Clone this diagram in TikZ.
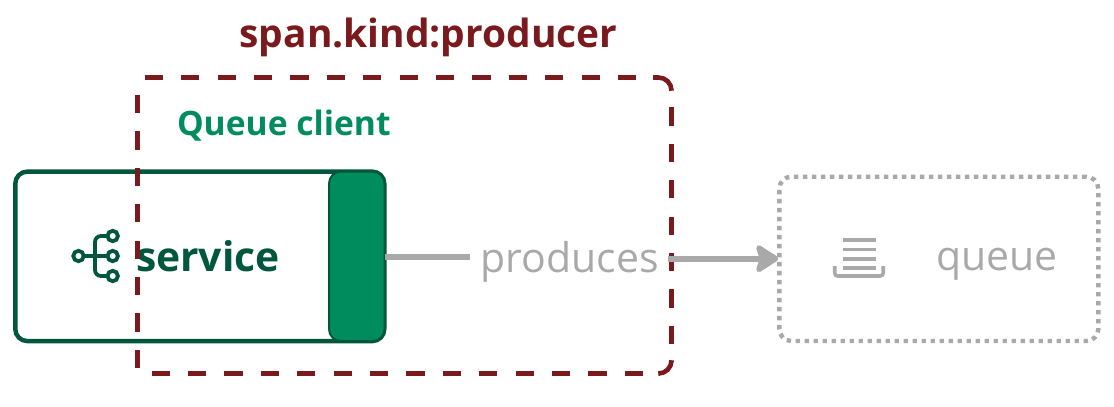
\documentclass[tikz,border=0pt]{standalone}
\usepackage{fontspec}
\setmainfont{Open Sans}
\usetikzlibrary{arrows.meta}
\definecolor{dkgreen}{HTML}{00573D}
\definecolor{midgreen}{HTML}{008C5C}
\definecolor{maroon}{HTML}{7A1A1D}
\definecolor{grayc}{HTML}{A9A9A9}
\tikzset{
  box/.style={draw,rounded corners=12,inner sep=0,outer sep=0,anchor=north west},
  svcbox/.style={box,draw=dkgreen,line width=4.4,fill=white,minimum width=369,minimum height=169.5},
  tab/.style={box,draw=dkgreen,line width=2,fill=midgreen,minimum width=55.5,minimum height=169.5},
  qbox/.style={box,draw=grayc,line width=4.4,dash pattern=on 4.4 off 4.6,minimum width=319,minimum height=164.3},
  frame/.style={draw=maroon,line width=4.6},
  framedash/.style={frame,dash pattern=on 18.2 off 18.2},
  conn/.style={draw=grayc,line width=6},
  icn/.style={draw=dkgreen,line width=3.8},
  qicn/.style={draw=grayc,line width=3.6},
  lbl/.style={inner sep=0,outer sep=0,font=\fontsize{41}{41}\selectfont},
}
\begin{document}
\begin{tikzpicture}[x=1pt,y=-1pt]
\useasboundingbox (0,0) rectangle (1114,407);
\node[svcbox] (service) at (15.3,171.6) {};
\node[tab] (tabn) at (329,171.6) {};
\node[lbl,text=dkgreen,font=\fontsize{40.8}{41}\selectfont\bfseries,anchor=base west] (svctext) at (136,271) {service};
% icon
\draw[icn] (78.5,256) circle (5.2);
\draw[icn] (112.7,236) circle (5.2);
\draw[icn] (112.7,256) circle (5.2);
\draw[icn] (112.7,276) circle (5.2);
\draw[icn] (83.7,256) -- (107.5,256);
\draw[icn,rounded corners=6] (107.5,236) -- (95,236) -- (95,276) -- (107.5,276);
% frame
\draw[framedash] (144.7,77.5) -- (653,77.5);
\draw[frame,rounded corners=13] (653,77.5) -- (671.5,77.5) -- (671.5,89.5);
\draw[framedash] (671.5,107.3) -- (671.5,350);
\draw[frame,rounded corners=13] (671.5,362) -- (671.5,373.5) -- (660,373.5);
\draw[framedash] (643,373.5) -- (152,373.5);
\draw[framedash] (137.5,368) -- (137.5,95);
\node[lbl,text=maroon,font=\fontsize{38.9}{39}\selectfont\bfseries,anchor=base] (title) at (428.5,47) {span.kind:producer};
\node[lbl,text=midgreen,font=\fontsize{33.6}{34}\selectfont\bfseries,anchor=base west] (client) at (177,135) {Queue client};
% queue
\node[qbox] (queue) at (779.3,176.7) {};
\node[lbl,text=grayc,anchor=base west] (qtext) at (936.5,270) {queue};
\draw[qicn] (842.7,240) -- (875.7,240) (842.7,249.3) -- (875.7,249.3) (842.7,258.7) -- (875.7,258.7) (842.7,267.7) -- (875.7,267.7);
\draw[qicn,rounded corners=3] (834.7,266) -- (834.7,276) -- (883.2,276) -- (883.2,266);
% connectors
\node[lbl,text=grayc,anchor=base] (produces) at (569.5,272) {produces};
\coordinate (pl) at (470,256.5);
\coordinate (pr) at (668,258.7);
\draw[conn] (tabn.east |- pl) -- (pl);
\draw[conn,-{Stealth[length=26,width=33,inset=5,round]}] (pr) -- ([xshift=-1]queue.west |- pr);
\end{tikzpicture}
\end{document}
